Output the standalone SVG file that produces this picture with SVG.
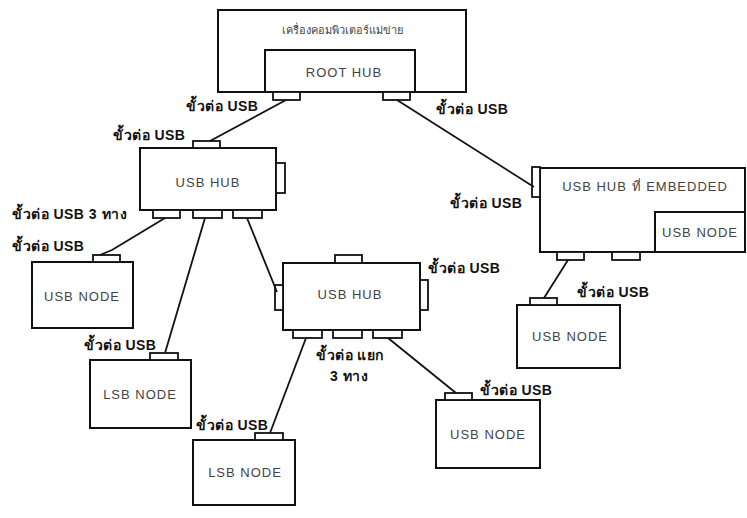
<svg xmlns="http://www.w3.org/2000/svg" width="747" height="518" viewBox="0 0 747 518">
<style>
.box{fill:#fff;stroke:#111;stroke-width:2}
.port{fill:#fff;stroke:#111;stroke-width:1.8}
.t{font-family:"Liberation Sans","Noto Sans",sans-serif;font-size:13px;fill:#444;text-anchor:middle;letter-spacing:1px}
.ttl{font-family:"Liberation Sans","Noto Sans",sans-serif;font-size:11px;fill:#444;text-anchor:middle}
.lb{font-family:"Liberation Sans","Noto Sans",sans-serif;font-size:14px;fill:#111;font-weight:bold;letter-spacing:0.5px}
.ln{fill:none;stroke:#111;stroke-width:1.8}
</style>
<rect width="747" height="518" fill="#fff"/>
<g id="host">
<rect class="box" x="218" y="10" width="248" height="82"/>
<text class="ttl" x="342" y="34">เครื่องคอมพิวเตอร์แม่ข่าย</text>
<rect class="box" x="265" y="50" width="150" height="42"/>
<text class="t" x="344" y="77">ROOT HUB</text>
<rect class="port" x="273" y="92" width="27" height="8"/>
<rect class="port" x="383" y="92" width="27" height="8"/>
</g>
<g id="hub1">
<rect class="box" x="140" y="148" width="136" height="62"/>
<text class="t" x="208" y="187">USB HUB</text>
<rect class="port" x="193" y="141" width="27" height="7"/>
<rect class="port" x="276" y="163" width="9" height="30"/>
<rect class="port" x="153" y="210" width="27" height="8"/>
<rect class="port" x="193" y="210" width="29" height="8"/>
<rect class="port" x="233" y="210" width="29" height="8"/>
</g>
<g id="node1">
<rect class="box" x="32" y="262" width="101" height="66"/>
<rect class="port" x="93" y="255" width="27" height="7"/>
<text class="t" x="82" y="301">USB NODE</text>
</g>
<g id="node2">
<rect class="box" x="90" y="360" width="101" height="68"/>
<rect class="port" x="150" y="353" width="28" height="7"/>
<text class="t" x="140" y="399">LSB NODE</text>
</g>
<g id="hub2">
<rect class="box" x="283" y="263" width="137" height="67"/>
<text class="t" x="350" y="299">USB HUB</text>
<rect class="port" x="335" y="255" width="27" height="8"/>
<rect class="port" x="275" y="285" width="8" height="25"/>
<rect class="port" x="420" y="280" width="8" height="30"/>
<rect class="port" x="293" y="330" width="29" height="8"/>
<rect class="port" x="333" y="330" width="29" height="8"/>
<rect class="port" x="373" y="330" width="29" height="8"/>
</g>
<g id="node3">
<rect class="box" x="193" y="440" width="102" height="65"/>
<rect class="port" x="255" y="433" width="28" height="7"/>
<text class="t" x="245" y="477">LSB NODE</text>
</g>
<g id="node4">
<rect class="box" x="436" y="400" width="104" height="68"/>
<rect class="port" x="445" y="393" width="27" height="7"/>
<text class="t" x="488" y="439">USB NODE</text>
</g>
<g id="embedded">
<rect class="box" x="540" y="168" width="205" height="84"/>
<rect class="port" x="532" y="167" width="8" height="30"/>
<text class="t" x="645" y="191">USB HUB ที่ EMBEDDED</text>
<rect class="box" x="655" y="212" width="90" height="40"/>
<text class="t" x="700" y="237">USB NODE</text>
<rect class="port" x="557" y="252" width="27" height="8"/>
<rect class="port" x="612" y="252" width="28" height="8"/>
</g>
<g id="node5">
<rect class="box" x="517" y="305" width="103" height="63"/>
<rect class="port" x="530" y="298" width="27" height="7"/>
<text class="t" x="570" y="341">USB NODE</text>
</g>
<g id="connectors">
<line class="ln" x1="286" y1="100" x2="210" y2="141"/>
<line class="ln" x1="397" y1="100" x2="534" y2="187"/>
<polyline class="ln" points="165,218 112,250 100,255"/>
<line class="ln" x1="205" y1="218" x2="165" y2="353"/>
<line class="ln" x1="247" y1="218" x2="277" y2="292"/>
<line class="ln" x1="306" y1="338" x2="270" y2="433"/>
<line class="ln" x1="388" y1="338" x2="456" y2="393"/>
<line class="ln" x1="568" y1="260" x2="544" y2="298"/>
</g>
<g id="labels">
<text class="lb" x="186" y="111">ขั้วต่อ USB</text>
<text class="lb" x="436" y="114">ขั้วต่อ USB</text>
<text class="lb" x="113" y="140">ขั้วต่อ USB</text>
<text class="lb" x="12" y="219">ขั้วต่อ USB 3 ทาง</text>
<text class="lb" x="12" y="251">ขั้วต่อ USB</text>
<text class="lb" x="84" y="350">ขั้วต่อ USB</text>
<text class="lb" x="428" y="273">ขั้วต่อ USB</text>
<text class="lb" x="316" y="360">ขั้วต่อ แยก</text>
<text class="lb" x="330" y="381">3 ทาง</text>
<text class="lb" x="196" y="430">ขั้วต่อ USB</text>
<text class="lb" x="480" y="395">ขั้วต่อ USB</text>
<text class="lb" x="450" y="208">ขั้วต่อ USB</text>
<text class="lb" x="577" y="297">ขั้วต่อ USB</text>
</g>
</svg>
